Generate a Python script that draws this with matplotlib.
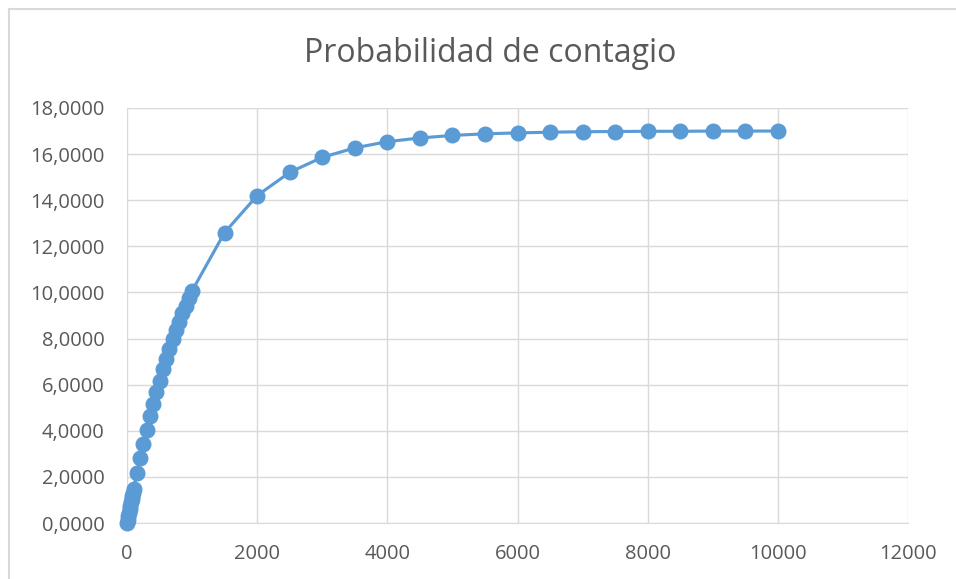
import matplotlib
matplotlib.use("Agg")
import matplotlib.pyplot as plt
from matplotlib.lines import Line2D
from matplotlib.ticker import FuncFormatter

x_vals = [0, 10, 20, 30, 40, 50, 60, 70, 80, 90, 100,
          150, 200, 250, 300, 350, 400, 450, 500, 550, 600, 650, 700, 750, 800, 850, 900, 950, 1000,
          1500, 2000, 2500, 3000, 3500, 4000, 4500, 5000, 5500, 6000, 6500, 7000, 7500, 8000, 8500, 9000, 9500, 10000]
y_vals = [0.0, 0.15, 0.30, 0.45, 0.60, 0.75, 0.89, 1.04, 1.18, 1.32, 1.46,
          2.15, 2.81, 3.44, 4.04, 4.62, 5.16, 5.69, 6.18, 6.66, 7.11, 7.54, 7.96, 8.35, 8.73, 9.09, 9.43, 9.76, 10.07,
          12.60, 14.20, 15.21, 15.86, 16.27, 16.54, 16.70, 16.81, 16.88, 16.92, 16.95, 16.97, 16.98, 16.99, 16.99, 17.0, 17.0, 17.0]
x_ticks = [0, 2000, 4000, 6000, 8000, 10000, 12000]
y_ticks = [0, 2, 4, 6, 8, 10, 12, 14, 16, 18]
title = "Probabilidad de contagio"

plt.rcParams['font.family'] = ['Open Sans', 'DejaVu Sans']

fig = plt.figure(figsize=(9.56, 5.79), dpi=100)
ax = fig.add_axes([127/956, 1 - 523/579, (908 - 127)/956, (523 - 108)/579])

ax.plot(x_vals, y_vals, color='#5B9BD5', linewidth=2.25, marker='o', markersize=10.5,
        markerfacecolor='#5B9BD5', markeredgecolor='#5B9BD5', zorder=3, clip_on=False)

ax.set_xlim(0, 12000)
ax.set_ylim(0, 18)
ax.set_xticks(x_ticks)
ax.set_yticks(y_ticks)
ax.yaxis.set_major_formatter(FuncFormatter(lambda v, p: f"{v:.4f}".replace('.', ',')))
ax.xaxis.set_major_formatter(FuncFormatter(lambda v, p: f"{int(v)}"))
ax.grid(True, color='#D9D9D9', linewidth=1)
ax.set_axisbelow(True)
for s in ['top', 'right', 'left']:
    ax.spines[s].set_visible(False)
ax.spines['bottom'].set_color('#D9D9D9')
ax.tick_params(axis='both', length=0, colors='#595959', labelsize=14.5)
ax.tick_params(axis='y', pad=16)
ax.tick_params(axis='x', pad=15)

fig.text(490/956, 1 - 53/579, title, ha='center', va='center', fontsize=23, color='#595959')

# chart border
fig.add_artist(Line2D([9/956, 9/956], [0, 1 - 9/579], color='#D9D9D9', linewidth=1.5, transform=fig.transFigure))
fig.add_artist(Line2D([9/956, 1], [1 - 9/579, 1 - 9/579], color='#D9D9D9', linewidth=1.5, transform=fig.transFigure))

fig.savefig("out.png", dpi=100)
